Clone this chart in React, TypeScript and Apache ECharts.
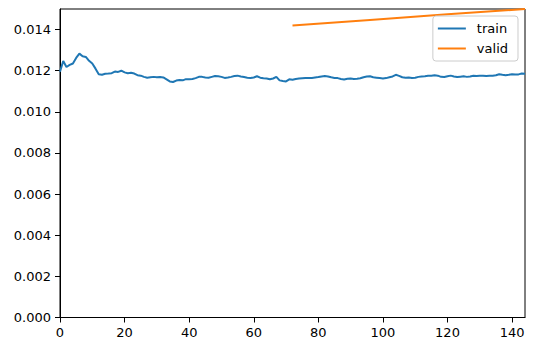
import React, { useEffect, useRef } from "react";
import * as echarts from "echarts";

const trainX: number[] = Array.from({ length: 145 }, (_, i) => i);
const trainY: number[] = [
  0.01195, 0.01247, 0.01218, 0.01228, 0.01235, 0.01262, 0.01283, 0.0127, 0.01267, 0.01248,
  0.01235, 0.0121, 0.01183, 0.0118, 0.01185, 0.01186, 0.01188, 0.01196, 0.01194, 0.012,
  0.01192, 0.01188, 0.0119, 0.01186, 0.01178, 0.01176, 0.0117, 0.01166, 0.01168, 0.0117,
  0.01168, 0.01169, 0.01167, 0.01158, 0.01148, 0.01145, 0.01152, 0.01155, 0.01153, 0.01159,
  0.01158, 0.0116, 0.01164, 0.0117, 0.0117, 0.01167, 0.01166, 0.0117, 0.01174, 0.01173,
  0.0117, 0.01165, 0.01167, 0.0117, 0.01174, 0.01176, 0.01172, 0.01169, 0.01166, 0.01164,
  0.01167, 0.01173, 0.01166, 0.01163, 0.01162, 0.01158, 0.01162, 0.0117, 0.01153, 0.0115,
  0.01148, 0.01158, 0.01156, 0.0116, 0.01162, 0.01163, 0.01164, 0.01165, 0.01165, 0.01167,
  0.01169, 0.01172, 0.01174, 0.01172, 0.01168, 0.01165, 0.01164, 0.0116, 0.01157, 0.01161,
  0.01162, 0.0116, 0.01161, 0.01163, 0.01168, 0.01172, 0.01173, 0.01168, 0.01166, 0.01164,
  0.01162, 0.01164, 0.01168, 0.01172, 0.0118, 0.01175, 0.01168, 0.01166, 0.01167, 0.01165,
  0.01166, 0.0117, 0.01172, 0.01173, 0.01175, 0.01176, 0.01178, 0.01176, 0.0117, 0.01169,
  0.01173, 0.01176, 0.01172, 0.01169, 0.01171, 0.01173, 0.0117, 0.01172, 0.01175, 0.01174,
  0.01175, 0.01176, 0.01174, 0.01175, 0.01176, 0.01178, 0.01183, 0.0118, 0.01178, 0.0118,
  0.01183, 0.01181, 0.01182, 0.01186, 0.01185,
];

const validX: number[] = [72, 96, 120, 144];
const validY: number[] = [0.0142, 0.01447, 0.01474, 0.015];

const xTicks: number[] = [0, 20, 40, 60, 80, 100, 120, 140];
const yTicks: number[] = [0, 0.002, 0.004, 0.006, 0.008, 0.01, 0.012, 0.014];

const FONT = "DejaVu Sans";

export default function App() {
  const ref = useRef<HTMLDivElement>(null);
  useEffect(() => {
    if (!ref.current) return;
    const chart = echarts.init(ref.current, undefined, { renderer: "svg" });
    chart.setOption({
      animation: false,
      backgroundColor: "#ffffff",
      grid: {
        left: 60,
        right: 9,
        top: 9,
        bottom: 33.5,
        show: true,
        borderColor: "#000",
        borderWidth: 1,
        backgroundColor: "transparent",
      },
      legend: {
        orient: "vertical",
        right: 16,
        top: 16,
        data: [
          { name: "train", icon: "rect" },
          { name: "valid", icon: "rect" },
        ],
        itemWidth: 28,
        itemHeight: 2,
        itemGap: 7,
        padding: [6, 10, 6, 5],
        backgroundColor: "rgba(255,255,255,0.8)",
        borderColor: "#cccccc",
        borderWidth: 1,
        borderRadius: 3,
        textStyle: { fontFamily: FONT, fontSize: 13, color: "#000", padding: [0, 0, 0, 6] },
      },
      xAxis: {
        type: "value",
        min: 0,
        max: 144,
        interval: 20,
        splitLine: { show: false },
        axisLine: { show: true, lineStyle: { color: "#000", width: 1 } },
        axisTick: { show: true, length: 5, customValues: xTicks, lineStyle: { color: "#000" } },
        axisLabel: {
          customValues: xTicks,
          color: "#000",
          fontFamily: FONT,
          fontSize: 13,
          margin: 8,
        },
      },
      yAxis: {
        type: "value",
        min: 0,
        max: 0.015,
        interval: 0.002,
        splitLine: { show: false },
        axisLine: { show: true, lineStyle: { color: "#000", width: 1 } },
        axisTick: { show: true, length: 5, customValues: yTicks, lineStyle: { color: "#000" } },
        axisLabel: {
          customValues: yTicks,
          color: "#000",
          fontFamily: FONT,
          fontSize: 13,
          margin: 9,
          formatter: (v: number) => v.toFixed(3),
        },
      },
      series: [
        {
          name: "train",
          type: "line",
          data: trainX.map((x, i) => [x, trainY[i]]),
          showSymbol: false,
          symbol: "none",
          itemStyle: { color: "#1f77b4" },
          lineStyle: { color: "#1f77b4", width: 2 },
        },
        {
          name: "valid",
          type: "line",
          data: validX.map((x, i) => [x, validY[i]]),
          showSymbol: false,
          symbol: "none",
          itemStyle: { color: "#ff7f0e" },
          lineStyle: { color: "#ff7f0e", width: 2 },
        },
      ],
    });
    return () => chart.dispose();
  }, []);
  return (
    <div
      ref={ref}
      style={{ position: "fixed", left: 0, top: 0, width: 534, height: 351 }}
    />
  );
}
